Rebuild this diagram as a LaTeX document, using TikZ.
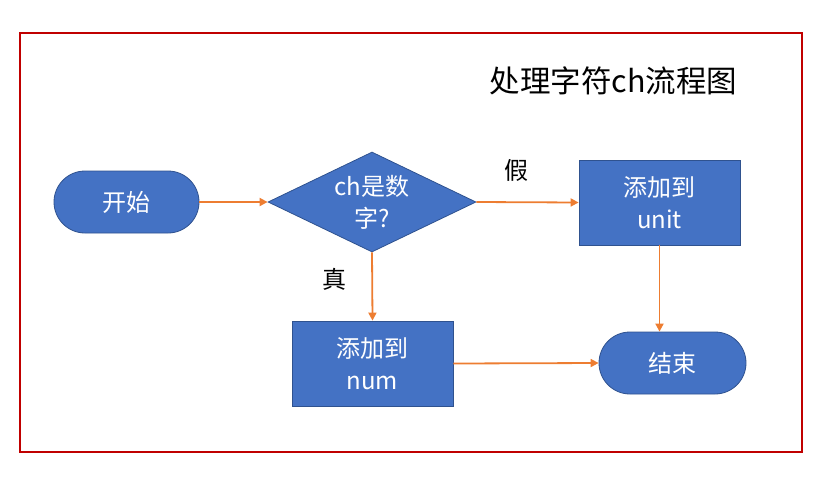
\documentclass[tikz,border=0pt]{standalone}
\usepackage{fontspec}
\setmainfont{Noto Sans CJK SC}
\usetikzlibrary{shapes.geometric,arrows.meta}
\definecolor{boxblue}{HTML}{4472C4}
\definecolor{boxedge}{HTML}{2F528F}
\definecolor{arrowor}{HTML}{ED7D31}
\definecolor{framered}{HTML}{C00000}
\begin{document}
\begin{tikzpicture}[x=1pt,y=-1pt,
 blockbase/.style={fill=boxblue,draw=boxedge,line width=0.8pt,text=white,font=\fontsize{24}{32}\selectfont,align=center,inner sep=0pt},
 terminal/.style={blockbase,rectangle,rounded corners=31pt,minimum height=62pt},
 procbox/.style={blockbase,rectangle,minimum width=161pt,minimum height=85pt},
 decision/.style={blockbase,diamond,shape aspect=2.08,minimum width=208pt,minimum height=100pt},
 flow/.style={draw=arrowor,line width=1.8pt,-{Triangle[length=8pt,width=8pt]}},
 lbl/.style={font=\fontsize{24}{28}\selectfont,text=black,inner sep=0pt}]
\useasboundingbox (0,0) rectangle (821,477);
\draw[framered,line width=1.5pt] (20,33) rectangle (802,452);
\node[font=\fontsize{30.5}{36}\selectfont,inner sep=0pt] (title) at (613.5,81) {处理字符ch流程图};
\node[terminal,minimum width=145pt] (start) at (126.5,202) {开始};
\node[decision] (dec) at (372,202) {ch是数\\字?};
\node[procbox] (unit) at (659.5,202.5) {添加到\\unit};
\node[procbox] (num) at (372.5,363.5) {添加到\\num};
\node[terminal,minimum width=147pt] (end) at (672.5,363) {结束};
\node[lbl] (ltrue) at (334,279) {真};
\node[lbl] (lfalse) at (516,170) {假};
\draw[flow] (start.east) -- (dec.west);
\draw[flow] (dec.east) -- (unit.west);
\draw[flow] (dec.south) -- (num.north);
\draw[flow] (unit.south) -- (unit.south |- end.north);
\draw[flow] (num.east) -- (end.west);
\end{tikzpicture}
\end{document}
